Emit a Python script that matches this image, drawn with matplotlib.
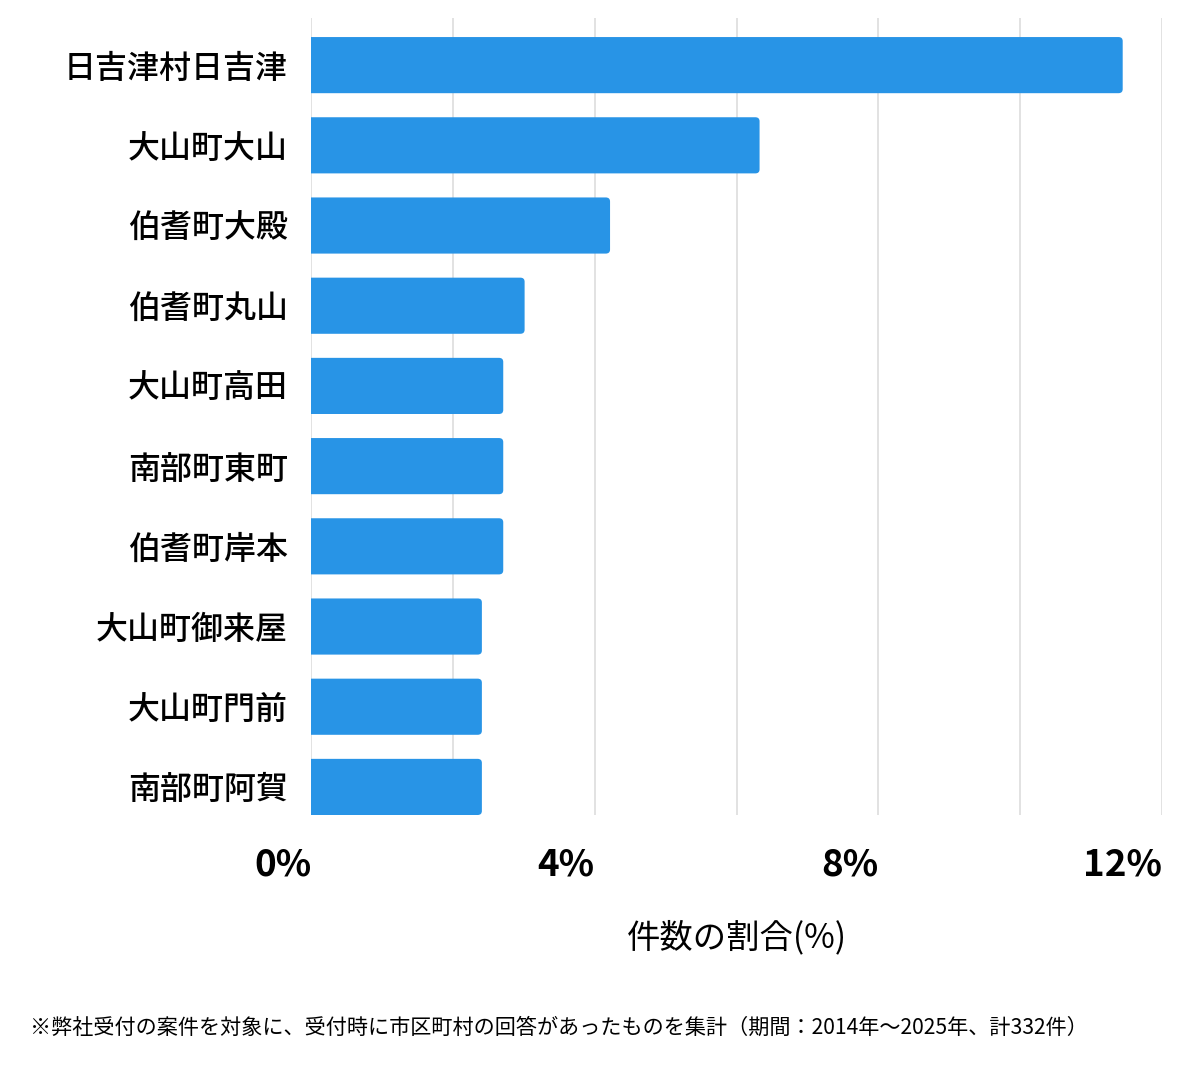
import matplotlib
matplotlib.use("Agg")
import matplotlib.pyplot as plt
from matplotlib.patches import FancyBboxPatch

plt.rcParams['font.family'] = ['Noto Sans CJK JP', 'DejaVu Sans']

categories = ["日吉津村日吉津", "大山町大山", "伯耆町大殿", "伯耆町丸山", "大山町高田",
              "南部町東町", "伯耆町岸本", "大山町御来屋", "大山町門前", "南部町阿賀"]
counts = [38, 21, 14, 10, 9, 9, 9, 8, 8, 8]
total = 332
values = [c / total * 100 for c in counts]
xticks = [0, 4, 8, 12]
xtick_labels = ["0%", "4%", "8%", "12%"]
grid_positions = [0, 2, 4, 6, 8, 10, 12]
xlabel = "件数の割合(%)"
footnote = "※弊社受付の案件を対象に、受付時に市区町村の回答があったものを集計（期間：2014年～2025年、計332件）"

fig = plt.figure(figsize=(12, 10.69), dpi=100)
W, H = 1200, 1069
ax = fig.add_axes([311 / W, 1 - 815 / H, (1162 - 311) / W, (815 - 18) / H])

ypos = list(range(len(categories)))
bars = ax.barh(ypos, values, height=0.7, color="#2894E6", zorder=3)
ax.set_ylim(len(categories) - 1 + 0.35, -0.5875)
ax.set_xlim(0, 12)

# replace each bar with one having slightly rounded right corners
for b in bars:
    x0, y0 = b.get_x(), b.get_y()
    w, h = b.get_width(), b.get_height()
    b.set_visible(False)
    ax.add_patch(FancyBboxPatch((x0 - 0.2, y0), w + 0.2, h,
                                boxstyle="round,pad=0,rounding_size=0.06",
                                mutation_aspect=0.84,
                                facecolor="#2894E6", edgecolor="none", zorder=3,
                                clip_on=True))

for g in grid_positions:
    ax.axvline(g, color="#dddddd", linewidth=1.2, zorder=0)

ax.set_xticks(xticks)
ax.set_xticklabels(xtick_labels, fontsize=26.5, fontweight="bold", ha="right")
ax.tick_params(axis="x", length=0, pad=23)
ax.set_yticks(ypos)
ax.set_yticklabels(categories, fontsize=23, fontweight="medium")
ax.tick_params(axis="y", length=0, pad=16.5)
for s in ax.spines.values():
    s.set_visible(False)

ax.set_xlabel(xlabel, fontsize=24, labelpad=26)
fig.text(30 / W, 1 - 1028 / H, footnote, fontsize=15.2, va="center", ha="left")

fig.savefig("out.png", dpi=100)
